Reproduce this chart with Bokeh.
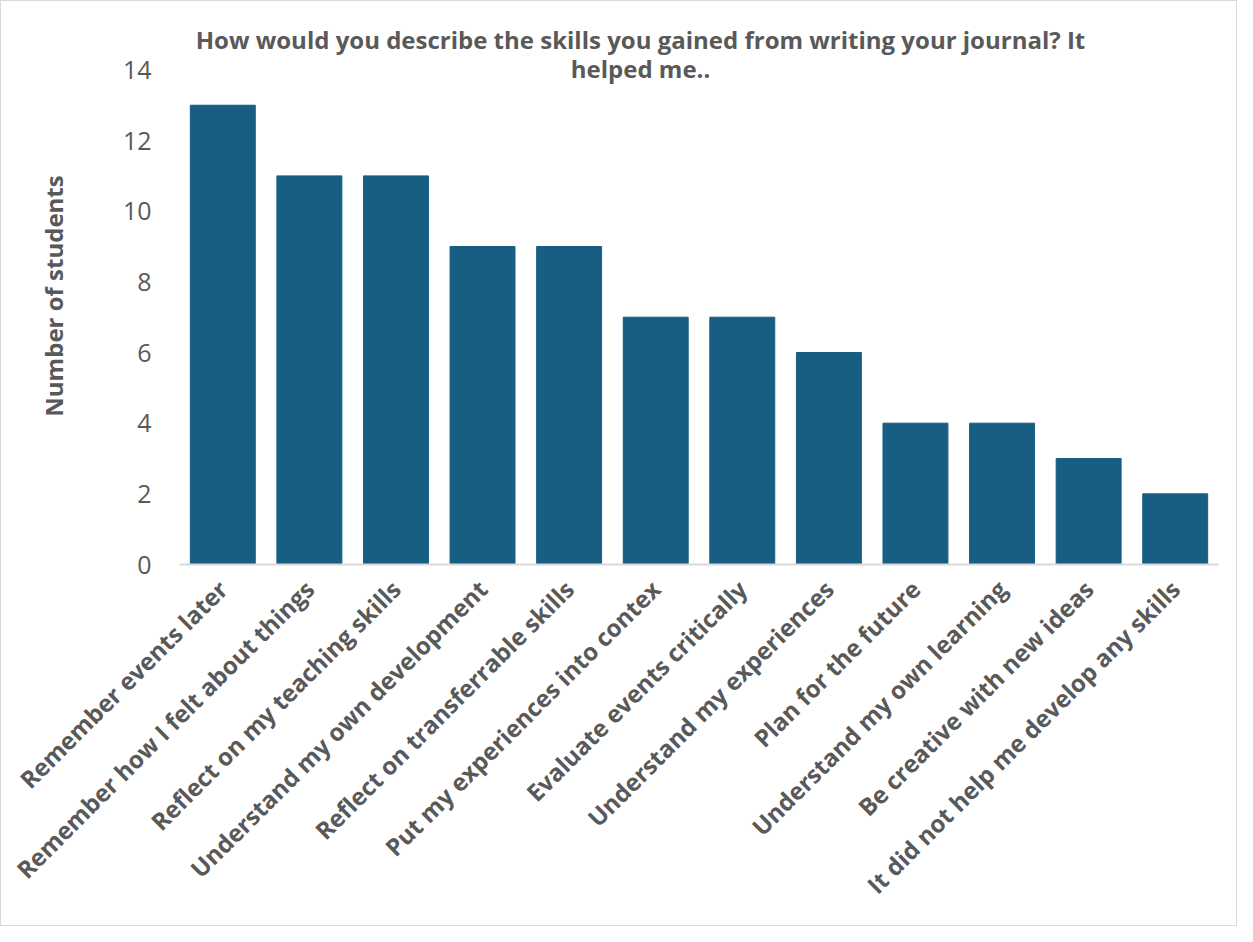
from math import pi
from bokeh.plotting import figure
from bokeh.models import Label
from bokeh.embed import file_html
from bokeh.resources import INLINE

categories = [
    "Remember events later",
    "Remember how I felt about things",
    "Reflect on my teaching skills",
    "Understand my own development",
    "Reflect on transferrable skills",
    "Put my experiences into contex",
    "Evaluate events critically",
    "Understand my experiences",
    "Plan for the future",
    "Understand my own learning",
    "Be creative with new ideas",
    "It did not help me develop any skills",
]
counts = [13, 11, 11, 9, 9, 7, 7, 6, 4, 4, 3, 2]
y_ticks = [0, 2, 4, 6, 8, 10, 12, 14]
title_lines = ["How would you describe the skills you gained from writing your journal? It", "helped me.."]

FONT = "Open Sans"
GREY = "#595959"
BAR = "#175E82"

p = figure(
    x_range=categories, y_range=(0, 15.2),
    width=1237, height=926,
    output_backend="svg", toolbar_location=None,
    min_border_left=178, min_border_right=20, min_border_top=26, min_border_bottom=363,
)
p.styles = {"border": "1px solid #d9d9d9"}
p.x_range.range_padding = 0
p.vbar(x=categories, top=counts, width=0.75, color=BAR)

p.outline_line_color = None
p.xgrid.grid_line_color = None
p.ygrid.grid_line_color = None

p.yaxis.ticker = y_ticks
p.yaxis.axis_line_color = None
p.yaxis.major_tick_line_color = None
p.yaxis.minor_tick_line_color = None
p.yaxis.major_label_text_font = FONT
p.yaxis.major_label_text_font_size = "25px"
p.yaxis.major_label_text_color = GREY
p.yaxis.major_label_standoff = 22
p.yaxis.axis_label = "Number of students"
p.yaxis.axis_label_text_font = FONT
p.yaxis.axis_label_text_font_style = "bold"
p.yaxis.axis_label_text_font_size = "24px"
p.yaxis.axis_label_text_color = GREY
p.yaxis.axis_label_standoff = 50

p.xaxis.axis_line_color = "#d9d9d9"
p.xaxis.axis_line_width = 2
p.xaxis.major_tick_line_color = None
p.xaxis.minor_tick_line_color = None
p.xaxis.major_label_orientation = pi / 4
p.xaxis.major_label_text_font = FONT
p.xaxis.major_label_text_font_style = "bold"
p.xaxis.major_label_text_font_size = "24px"
p.xaxis.major_label_text_color = GREY
p.xaxis.major_label_standoff = 14

for txt, ys in zip(title_lines, [525, 496]):
    p.add_layout(Label(
        x=461, y=ys, x_units="screen", y_units="screen", text=txt,
        text_align="center", text_baseline="middle",
        text_font=FONT, text_font_style="bold", text_font_size="24px",
        text_color=GREY,
    ))

open("out.html", "w").write(file_html(p, INLINE))
